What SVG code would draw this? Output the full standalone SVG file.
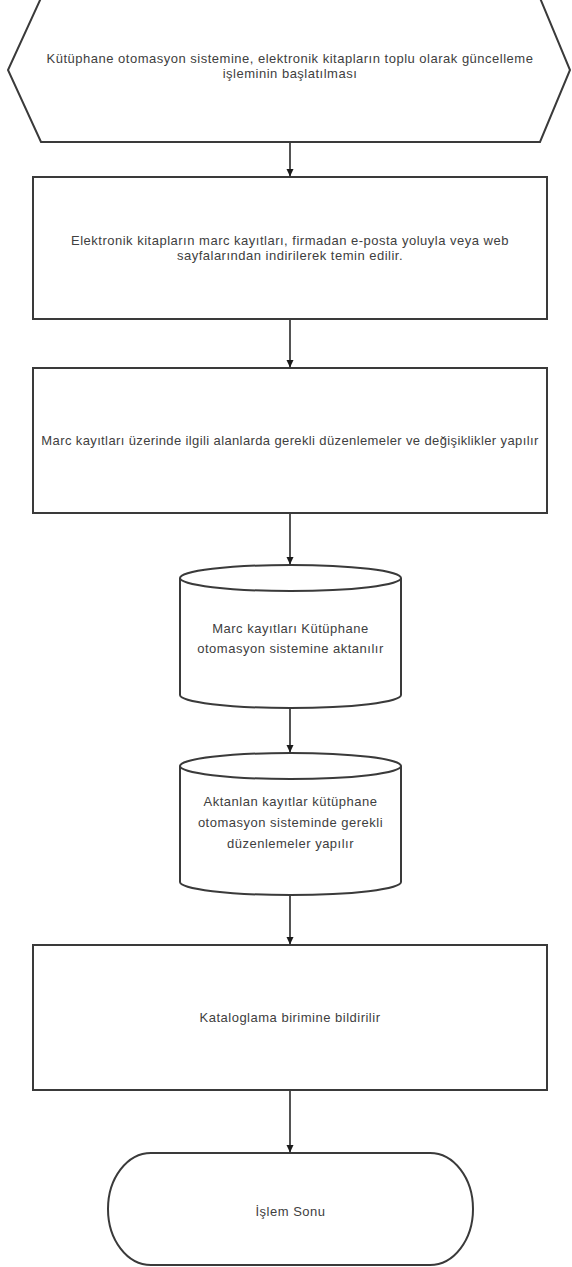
<svg xmlns="http://www.w3.org/2000/svg" width="572" height="1267" viewBox="0 0 572 1267">
<defs>
<marker id="ah" markerWidth="8" markerHeight="8" refX="7" refY="4" orient="auto" markerUnits="userSpaceOnUse">
<path d="M0,0.5 L7.5,4 L0,7.5 Z" fill="#1a1a1a"/>
</marker>
<style>
.s{fill:#ffffff;stroke:#3a3a3a;stroke-width:2}
.t{font-family:"Liberation Sans",Arial,sans-serif;font-size:13px;letter-spacing:0.5px;fill:#404040;text-anchor:middle}
.n{letter-spacing:0.38px}
.c{stroke:#2a2a2a;stroke-width:1.6;fill:none}
</style>
</defs>
<rect width="572" height="1267" fill="#ffffff"/>
<g id="start">
<path class="s" d="M41,-2 L540,-2 L570,70 L540,142 L41,142 L8,70 Z"/>
<text class="t" x="290" y="62.5">Kütüphane otomasyon sistemine, elektronik kitapların toplu olarak güncelleme</text>
<text class="t" x="290" y="77.5">işleminin başlatılması</text>
</g>
<g id="step1">
<rect class="s" x="33" y="177" width="514" height="142"/>
<text class="t" x="290" y="245">Elektronik kitapların marc kayıtları, firmadan e-posta yoluyla veya web</text>
<text class="t" x="290" y="260">sayfalarından indirilerek temin edilir.</text>
</g>
<g id="step2">
<rect class="s" x="33" y="368" width="514" height="145"/>
<text class="t n" x="290" y="445">Marc kayıtları üzerinde ilgili alanlarda gerekli düzenlemeler ve değişiklikler yapılır</text>
</g>
<g id="db1">
<path class="s" d="M180,578 L180,695 A110.5,13 0 0 0 401,695 L401,578 A110.5,13 0 0 0 180,578 Z"/>
<path class="s" fill="none" d="M180,578 A110.5,13 0 0 0 401,578"/>
<text class="t" x="290.5" y="633">Marc kayıtları Kütüphane</text>
<text class="t" x="290.5" y="653">otomasyon sistemine aktanılır</text>
</g>
<g id="db2">
<path class="s" d="M180,766 L180,882 A110.5,13 0 0 0 401,882 L401,766 A110.5,13 0 0 0 180,766 Z"/>
<path class="s" fill="none" d="M180,766 A110.5,13 0 0 0 401,766"/>
<text class="t" x="290.5" y="806">Aktanlan kayıtlar kütüphane</text>
<text class="t" x="290.5" y="827">otomasyon sisteminde gerekli</text>
<text class="t" x="290.5" y="848">düzenlemeler yapılır</text>
</g>
<g id="step3">
<rect class="s" x="33" y="945" width="514" height="145"/>
<text class="t" x="290" y="1022">Kataloglama birimine bildirilir</text>
</g>
<g id="end">
<rect class="s" x="108" y="1153" width="365" height="112" rx="43" ry="56"/>
<text class="t" x="290.5" y="1216">İşlem Sonu</text>
</g>
<g id="connectors">
<line class="c" x1="290" y1="143" x2="290" y2="176" marker-end="url(#ah)"/>
<line class="c" x1="290" y1="320" x2="290" y2="367" marker-end="url(#ah)"/>
<line class="c" x1="290" y1="514" x2="290" y2="564" marker-end="url(#ah)"/>
<line class="c" x1="290" y1="709" x2="290" y2="752" marker-end="url(#ah)"/>
<line class="c" x1="290" y1="896" x2="290" y2="944" marker-end="url(#ah)"/>
<line class="c" x1="290" y1="1091" x2="290" y2="1152" marker-end="url(#ah)"/>
</g>
</svg>
